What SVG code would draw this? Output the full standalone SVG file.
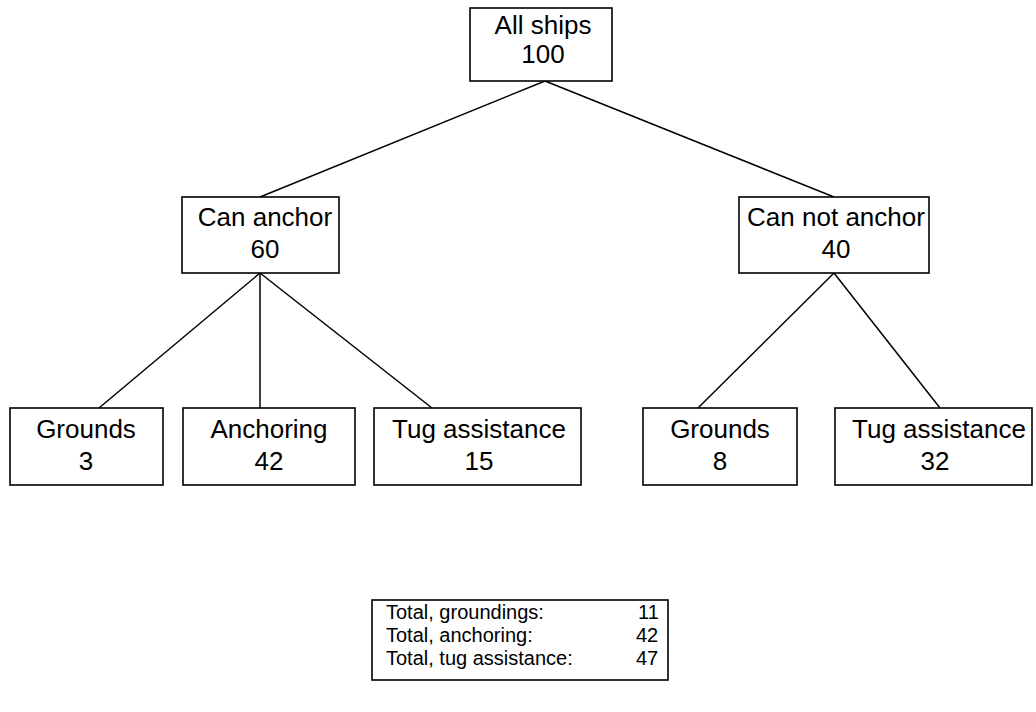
<svg xmlns="http://www.w3.org/2000/svg" width="1036" height="712" viewBox="0 0 1036 712">
<style>
.box{fill:#fff;stroke:#000;stroke-width:1.6}
.t{font-family:"Liberation Sans",Arial,sans-serif;font-size:26px;fill:#000;text-anchor:middle}
.s{font-family:"Liberation Sans",Arial,sans-serif;font-size:20px;fill:#000}
.c line{stroke:#000;stroke-width:1.5}
</style>
<rect width="1036" height="712" fill="#fff"/>
<g class="c" id="connectors">
<line x1="545" y1="81" x2="260" y2="197"/>
<line x1="545" y1="81" x2="834" y2="197"/>
<line x1="260" y1="273" x2="99" y2="408"/>
<line x1="260" y1="273" x2="260" y2="408"/>
<line x1="260" y1="273" x2="432" y2="408"/>
<line x1="834" y1="273" x2="698" y2="408"/>
<line x1="834" y1="273" x2="940" y2="408"/>
</g>
<g id="all-ships"><rect class="box" x="470" y="8" width="142" height="73"/><text class="t" x="543" y="34">All ships</text><text class="t" x="543" y="63">100</text></g>
<g id="can-anchor"><rect class="box" x="182" y="197" width="157" height="76"/><text class="t" x="265" y="226">Can anchor</text><text class="t" x="265" y="258">60</text></g>
<g id="can-not-anchor"><rect class="box" x="739" y="197" width="190" height="76"/><text class="t" x="836" y="226">Can not anchor</text><text class="t" x="836" y="258">40</text></g>
<g id="grounds-3"><rect class="box" x="10" y="408" width="153" height="77"/><text class="t" x="86" y="438">Grounds</text><text class="t" x="86" y="470">3</text></g>
<g id="anchoring-42"><rect class="box" x="183" y="408" width="172" height="77"/><text class="t" x="269" y="438">Anchoring</text><text class="t" x="269" y="470">42</text></g>
<g id="tug-15"><rect class="box" x="374" y="408" width="207" height="77"/><text class="t" x="479" y="438">Tug assistance</text><text class="t" x="479" y="470">15</text></g>
<g id="grounds-8"><rect class="box" x="643" y="408" width="154" height="77"/><text class="t" x="720" y="438">Grounds</text><text class="t" x="720" y="470">8</text></g>
<g id="tug-32"><rect class="box" x="835" y="408" width="197" height="77"/><text class="t" x="939" y="438">Tug assistance</text><text class="t" x="935" y="470">32</text></g>
<g id="totals"><rect class="box" x="372" y="600" width="296" height="80"/>
<text class="s" x="386" y="619">Total, groundings:</text><text class="s" x="386" y="642">Total, anchoring:</text><text class="s" x="386" y="665">Total, tug assistance:</text>
<text class="s" x="638" y="619">11</text><text class="s" x="636" y="642">42</text><text class="s" x="636" y="665">47</text></g>
</svg>
